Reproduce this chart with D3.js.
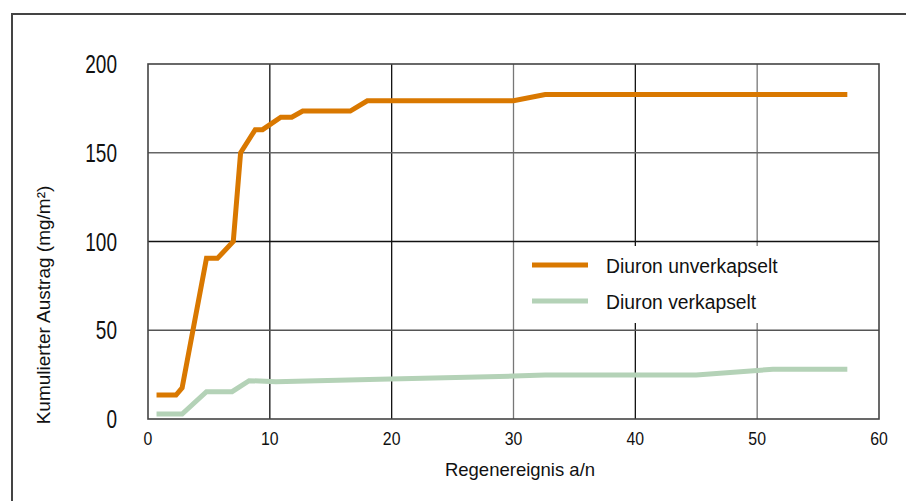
<!DOCTYPE html>
<html>
<head>
<meta charset="utf-8">
<script src="https://cdn.jsdelivr.net/npm/d3@7"></script>
<style>
  body { margin: 0; background: #fff; }
  text { font-family: "Liberation Sans", Arial, sans-serif; fill: #111; }
</style>
</head>
<body>
<div id="chart"></div>
<script>
// values
const seriesNames = ["Diuron unverkapselt", "Diuron verkapselt"];
const seriesColors = ["#d97800", "#b4d2b7"];
const unverkapseltX = [0.7, 2.3, 2.8, 4.8, 5.7, 7.0, 7.6, 8.8, 9.4, 10.9, 11.8, 12.7, 16.6, 18.0, 30.0, 32.6, 57.4];
const unverkapseltY = [13.5, 13.5, 17.5, 90.5, 90.5, 100, 150, 163, 163, 170, 170, 173.5, 173.5, 179.3, 179.3, 182.8, 182.8];
const verkapseltX = [0.7, 2.8, 4.8, 6.9, 8.3, 10.5, 19.0, 30.0, 32.6, 45.0, 51.3, 57.4];
const verkapseltY = [2.8, 2.8, 15.4, 15.4, 21.6, 21.0, 22.4, 24.2, 24.8, 24.8, 28.0, 28.0];
const xTicks = [0, 10, 20, 30, 40, 50, 60];
const yTicks = [0, 50, 100, 150, 200];

const width = 906, height = 501;
const svg = d3.select("#chart").append("svg").attr("width", width).attr("height", height);

// outer frame (only top and left visible)
svg.append("path").attr("d", "M12,501 V14 H906").attr("fill", "none").attr("stroke", "#444").attr("stroke-width", 2);

const x = d3.scaleLinear().domain([0, 60]).range([148, 879]);
const y = d3.scaleLinear().domain([0, 200]).range([419, 64]);

// condensed look: squeeze text horizontally
function label(sel, tx, ty, size, sx) {
    return sel.attr("transform", (d, i) => `translate(${typeof tx == "function" ? tx(d, i) : tx},${typeof ty == "function" ? ty(d, i) : ty}) scale(${sx},1)`)
        .attr("font-size", size);
}

// grid
const vDark = {10: "#111", 20: "#111", 30: "#777", 40: "#111", 50: "#777"};
const hDark = {50: "#555", 100: "#111", 150: "#666"};
const grid = svg.append("g");
grid.selectAll(".vg").data(xTicks.slice(1, -1)).enter().append("line")
    .attr("x1", d => x(d)).attr("x2", d => x(d))
    .attr("y1", y(200)).attr("y2", y(0))
    .attr("stroke", d => vDark[d]).attr("stroke-width", 1.3);
grid.selectAll(".hg").data(yTicks.slice(1, -1)).enter().append("line")
    .attr("x1", x(0)).attr("x2", x(60))
    .attr("y1", d => y(d)).attr("y2", d => y(d))
    .attr("stroke", d => hDark[d]).attr("stroke-width", 1.5);

// legend box hides the grid behind it
svg.append("rect").attr("x", 516).attr("y", 246).attr("width", 362).attr("height", 77).attr("fill", "#fff");

// plot frame
svg.append("rect").attr("x", x(0)).attr("y", y(200))
    .attr("width", x(60) - x(0)).attr("height", y(0) - y(200))
    .attr("fill", "none").attr("stroke", "#444").attr("stroke-width", 1.6);

// axes labels
label(svg.selectAll(".xt").data(xTicks).enter().append("text"), d => x(d), 445, 18, 0.88)
    .attr("text-anchor", "middle").text(d => d);
label(svg.selectAll(".yt").data(yTicks).enter().append("text"), 117, d => y(d) + 9, 25, 0.76)
    .attr("text-anchor", "end").text(d => d);

label(svg.append("text"), 520, 476, 18.5, 1)
    .attr("text-anchor", "middle").text("Regenereignis a/n");
svg.append("text").attr("transform", "translate(50,305) rotate(-90)")
    .attr("text-anchor", "middle").attr("font-size", 19).text("Kumulierter Austrag (mg/m²)");

// lines
const line = d3.line().x(d => x(d[0])).y(d => y(d[1]));
const lineData = [d3.zip(unverkapseltX, unverkapseltY), d3.zip(verkapseltX, verkapseltY)];
svg.selectAll(".series").data(lineData).enter().append("path")
    .attr("d", line).attr("fill", "none")
    .attr("stroke", (d, i) => seriesColors[i]).attr("stroke-width", 5)
    .attr("stroke-linejoin", "miter");

// legend
const legend = svg.selectAll(".leg").data(seriesNames).enter().append("g")
    .attr("transform", (d, i) => `translate(532, ${265 + i * 36})`);
legend.append("line").attr("x1", 0).attr("x2", 56)
    .attr("stroke", (d, i) => seriesColors[i]).attr("stroke-width", 5);
label(legend.append("text"), 74, 8, 21, 0.92).text(d => d);
</script>
</body>
</html>
